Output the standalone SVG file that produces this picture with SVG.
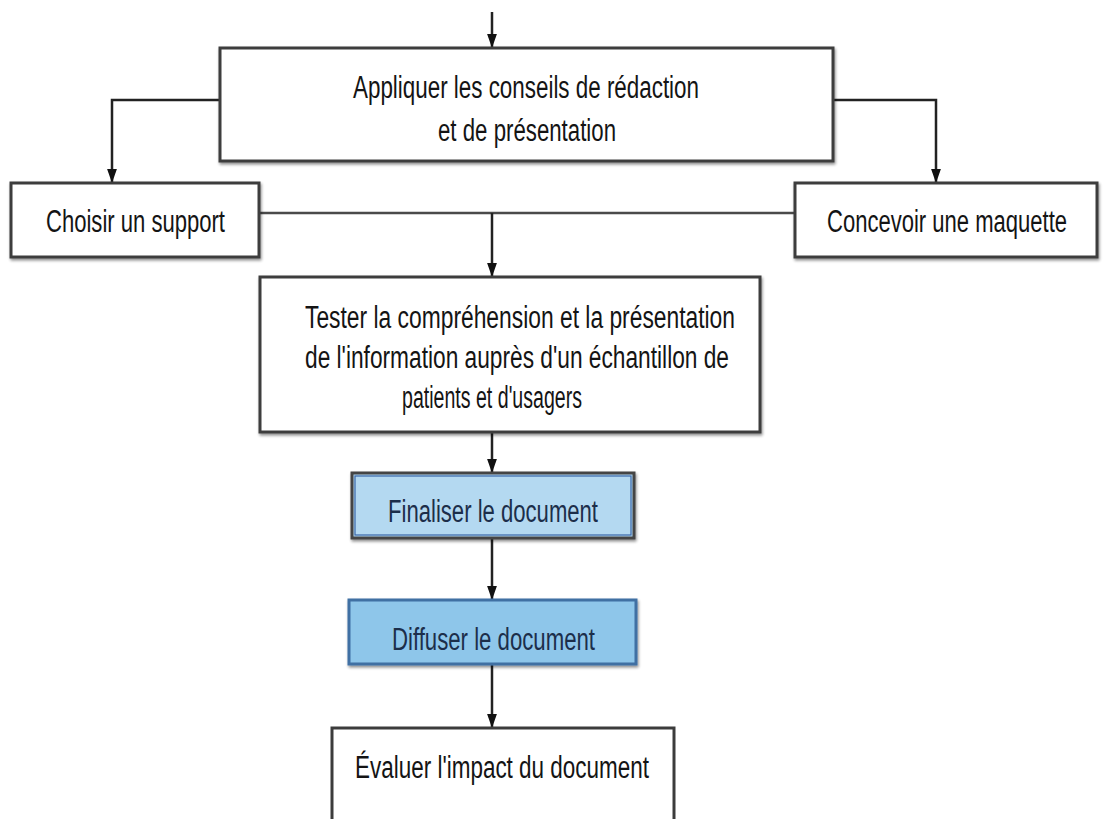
<svg xmlns="http://www.w3.org/2000/svg" width="1104" height="819" viewBox="0 0 1104 819">
  <defs>
    <marker id="arrow" markerUnits="userSpaceOnUse" markerWidth="14" markerHeight="22" refX="20" refY="7" orient="auto" viewBox="0 0 20 14">
      <path d="M0,0 L20,7 L0,14 Z" fill="#111"/>
    </marker>
    <filter id="shadow" x="-5%" y="-10%" width="112%" height="130%">
      <feGaussianBlur in="SourceAlpha" stdDeviation="1.5"/>
      <feOffset dx="1" dy="2" result="b"/>
      <feComponentTransfer><feFuncA type="linear" slope="0.45"/></feComponentTransfer>
      <feMerge><feMergeNode/><feMergeNode in="SourceGraphic"/></feMerge>
    </filter>
  </defs>
  <style>
    .box { fill: #ffffff; stroke: #3c3c3c; stroke-width: 3; }
    .lbl { font-family: "Liberation Sans", Arial, sans-serif; font-size: 31px; fill: #141414; text-anchor: middle; }
    .blue { fill: #1c2e4a; }
    .conn { fill: none; stroke: #4a4a4a; stroke-width: 2.5; }
    .arr { fill: none; stroke: #222; stroke-width: 2.5; marker-end: url(#arrow); }
  </style>

  <rect width="1104" height="819" fill="#ffffff"/>

  <!-- connectors -->
  <g id="connectors">
    <line class="arr" x1="492" y1="12" x2="492" y2="48"/>
    <polyline class="arr" points="220,100 112,100 112,183"/>
    <polyline class="arr" points="833,100 936,100 936,183"/>
    <line class="conn" x1="259" y1="213" x2="795" y2="213"/>
    <line class="arr" x1="492" y1="213" x2="492" y2="277"/>
    <line class="arr" x1="492" y1="432" x2="492" y2="473"/>
    <line class="arr" x1="492" y1="538" x2="492" y2="600"/>
    <line class="arr" x1="492" y1="664" x2="492" y2="728"/>
  </g>

  <!-- nodes -->
  <g id="node-appliquer">
    <rect class="box" x="220" y="48" width="613" height="113" filter="url(#shadow)"/>
    <text class="lbl" x="526" y="98" textLength="346" lengthAdjust="spacingAndGlyphs">Appliquer les conseils de rédaction</text>
    <text class="lbl" x="527" y="141" textLength="178" lengthAdjust="spacingAndGlyphs">et de présentation</text>
  </g>

  <g id="node-support">
    <rect class="box" x="11" y="183" width="248" height="74" filter="url(#shadow)"/>
    <text class="lbl" x="135.5" y="232" textLength="179" lengthAdjust="spacingAndGlyphs">Choisir un support</text>
  </g>

  <g id="node-maquette">
    <rect class="box" x="795" y="183" width="302" height="74" filter="url(#shadow)"/>
    <text class="lbl" x="947" y="232" textLength="240" lengthAdjust="spacingAndGlyphs">Concevoir une maquette</text>
  </g>

  <g id="node-tester">
    <rect class="box" x="260" y="277" width="500" height="155" filter="url(#shadow)"/>
    <text class="lbl" x="520" y="328" textLength="430" lengthAdjust="spacingAndGlyphs">Tester la compréhension et la présentation</text>
    <text class="lbl" x="517" y="368" textLength="424" lengthAdjust="spacingAndGlyphs">de l'information auprès d'un échantillon de</text>
    <text class="lbl" x="492" y="408" textLength="180" lengthAdjust="spacingAndGlyphs">patients et d'usagers</text>
  </g>

  <g id="node-finaliser">
    <rect x="352" y="473" width="282" height="65" fill="#b4d9f1" stroke="#454545" stroke-width="3" filter="url(#shadow)"/>
    <rect x="355" y="476" width="276" height="59" fill="none" stroke="#3a67a8" stroke-width="1.2"/>
    <text class="lbl blue" x="493" y="522" textLength="210" lengthAdjust="spacingAndGlyphs">Finaliser le document</text>
  </g>

  <g id="node-diffuser">
    <rect x="349" y="600" width="287" height="64" fill="#8ec6ea" stroke="#3f6fa3" stroke-width="3" filter="url(#shadow)"/>
    <text class="lbl blue" x="493.5" y="650" textLength="203" lengthAdjust="spacingAndGlyphs">Diffuser le document</text>
  </g>

  <g id="node-evaluer">
    <rect class="box" x="332" y="728" width="342" height="120"/>
    <text class="lbl" x="502" y="778" textLength="294" lengthAdjust="spacingAndGlyphs">Évaluer l'impact du document</text>
  </g>
</svg>
